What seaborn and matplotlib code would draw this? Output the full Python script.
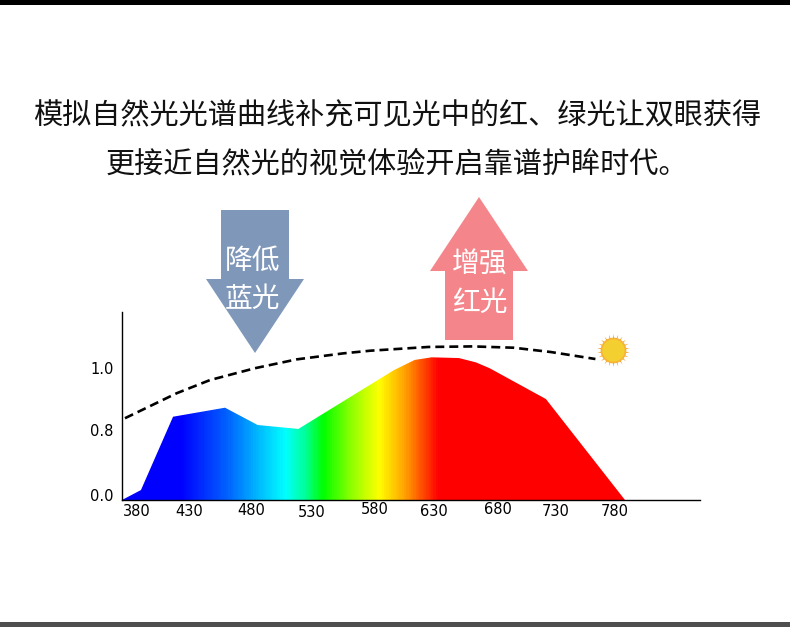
import numpy as np
import matplotlib
matplotlib.use("Agg")
import matplotlib.pyplot as plt
import matplotlib.patches as mpatches
import matplotlib.transforms as mtransforms
from matplotlib.colors import LinearSegmentedColormap
import seaborn as sns

# text of the picture
title_lines = ["模拟自然光光谱曲线补充可见光中的红、绿光让双眼获得",
               "更接近自然光的视觉体验开启靠谱护眸时代。"]
down_text = ["降低", "蓝光"]
up_text = ["增强", "红光"]

# lamp spectrum (wavelength in nm, height on the chart's 0..1 frame)
led_nm = [366.6, 382.5, 409.4, 453.0, 480.3, 514.5, 594.7, 612.0,
          626.3, 649.2, 663.4, 674.9, 722.1, 788.4]
led_val = [0.0, 0.053, 0.443, 0.491, 0.399, 0.378, 0.691, 0.745,
           0.759, 0.755, 0.732, 0.701, 0.537, 0.0]

# natural light (dashed) curve
sun_nm = [369.1, 412.5, 440.4, 478.1, 513.1, 552.2, 574.6, 623.4,
          660.6, 695.0, 726.3, 763.6]
sun_val = [0.435, 0.568, 0.638, 0.701, 0.748, 0.780, 0.794, 0.814,
           0.817, 0.810, 0.787, 0.750]
sun_icon = (778.0, 0.80)

x_ticks = [380, 430, 480, 530, 580, 630, 680, 730, 780]
y_ticks = [0.027, 0.372, 0.702]
y_labels = ["0.0", "0.8", "1.0"]

# colour stops of the spectrum fill (nm -> colour)
spec_stops = [(366.6, "#0000ff"), (415, "#0000ff"), (455, "#0064ff"),
              (480, "#00b9ff"), (503, "#00ffff"), (520, "#00ff96"),
              (535, "#00ff00"), (560, "#96ff00"), (582, "#ffff00"),
              (603, "#ffa500"), (618, "#ff5000"), (632, "#ff0000"),
              (851.3, "#ff0000")]

W, H = 790, 627
sns.set_theme(style="white")
plt.rcParams["font.family"] = ["Noto Sans CJK SC", "DejaVu Sans"]
cjk = ["Noto Sans CJK SC", "DejaVu Sans"]

fig = plt.figure(figsize=(W / 100, H / 100), dpi=100)
fig.patch.set_facecolor("white")

ax = fig.add_axes([122 / W, 127 / H, 578 / W, 188 / H])
xmin, xmax = 366.6, 851.3

# gradient clipped to the spectrum area
cmap = LinearSegmentedColormap.from_list(
    "spec", [((nm - xmin) / (xmax - xmin), c) for nm, c in spec_stops])
grad = np.linspace(0, 1, 600).reshape(1, -1)
im = ax.imshow(grad, cmap=cmap, extent=(xmin, xmax, 0, 1), aspect="auto",
               origin="lower", zorder=2, interpolation="bilinear")
area = ax.fill_between(led_nm, led_val, facecolor="none", lw=0)
im.set_clip_path(area.get_paths()[0], transform=ax.transData)

sns.lineplot(x=sun_nm, y=sun_val, ax=ax, color="black", lw=1.9,
             linestyle=(0, (3.4, 1.9)), sort=False, zorder=3)

# sun icon
ax.scatter([sun_icon[0]], [sun_icon[1]], marker=(22, 1, 0), s=560,
           color="#f39a1c", lw=0, zorder=4, clip_on=False)
ax.scatter([sun_icon[0]], [sun_icon[1]], marker="o", s=300,
           facecolor="#f3cf30", edgecolor="#f7b23a", lw=1.2, zorder=5,
           clip_on=False)

ax.set_xlim(xmin, xmax)
ax.set_ylim(0, 1)
ax.set_xticks(x_ticks, [str(v) for v in x_ticks])
ax.set_yticks(y_ticks, y_labels)
ax.tick_params(axis="both", length=0, labelsize=10.5, colors="black")
ax.tick_params(axis="x", pad=3.2)
ax.tick_params(axis="y", pad=6)
for lab in ax.get_xticklabels() + ax.get_yticklabels():
    lab.set_family("DejaVu Sans")
for s in ["top", "right"]:
    ax.spines[s].set_visible(False)
for s in ["left", "bottom"]:
    ax.spines[s].set_color("black")
    ax.spines[s].set_linewidth(1.0)
ax.patch.set_visible(False)

# uneven label placement of the original (pixels)
x_shift = [-1, -8, -6, -5, -2, -2, 2.5, 0, 0]
y_shift = [0, 0, -1.5, 0.5, -2, 0, -2, -0.5, -0.5]
for lab, dx, dy in zip(ax.get_xticklabels(), x_shift, y_shift):
    lab.set_transform(lab.get_transform() + mtransforms.ScaledTranslation(
        dx / 100, -dy / 100, fig.dpi_scale_trans))

# decoration layer in pixel coordinates
deco = fig.add_axes([0, 0, 1, 1], zorder=5)
deco.set_xlim(0, W)
deco.set_ylim(H, 0)
deco.axis("off")
deco.patch.set_visible(False)

deco.add_patch(mpatches.Rectangle((0, 0), W, 4.5, color="black", lw=0))
deco.add_patch(mpatches.Rectangle((0, 622), W, 5, color="#4e4e4e", lw=0))

for i, line in enumerate(title_lines):
    deco.text(397, 116.5 + 47.5 * i, line, ha="center", va="center",
              fontsize=21, color="#111111", family=cjk, weight="medium")

deco.add_patch(mpatches.FancyArrow(255, 210, 0, 143, width=68, head_width=98,
                                   head_length=74, length_includes_head=True,
                                   color="#7f98ba", lw=0))
deco.add_patch(mpatches.FancyArrow(479, 340, 0, -143, width=68, head_width=98,
                                   head_length=74, length_includes_head=True,
                                   color="#f4858b", lw=0))
for i, t in enumerate(down_text):
    deco.text(253, 261 + 37.5 * i, t, ha="center", va="center",
              fontsize=20, color="white", family=cjk, weight="medium")
for i, t in enumerate(up_text):
    deco.text(480, 265 + 38 * i, t, ha="center", va="center",
              fontsize=20, color="white", family=cjk, weight="medium")

fig.savefig("out.png", dpi=100, facecolor="white")
